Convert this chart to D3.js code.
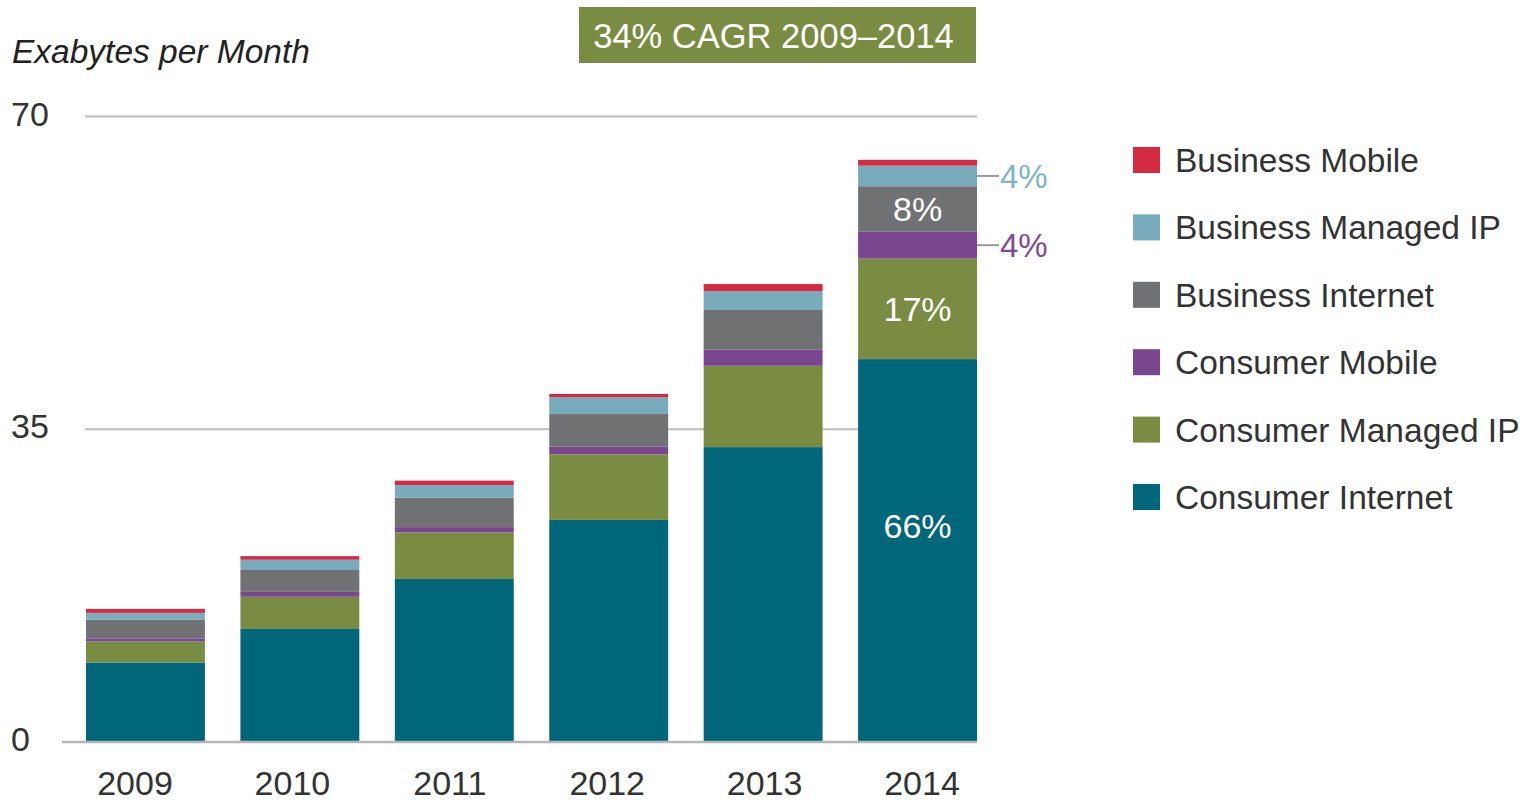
<!DOCTYPE html>
<html>
<head>
<meta charset="utf-8">
<script src="https://cdn.jsdelivr.net/npm/d3@7"></script>
<style>
  html, body { margin: 0; padding: 0; background: #fff; }
  svg { display: block; font-family: "Liberation Sans", Arial, sans-serif; }
  .tick-label { font-size: 34px; fill: #333; }
  .legend-label { font-size: 33.5px; fill: #333; }
</style>
</head>
<body>
<svg id="chart" width="1532" height="801"></svg>
<script>
// Global IP traffic by segment, Exabytes per month
const YEARS = ['2009', '2010', '2011', '2012', '2013', '2014'];

const consumerInternet  = [8.9, 12.65, 18.25, 24.85, 33.0, 42.85];
const consumerManagedIP = [2.35, 3.6, 5.2, 7.35, 9.1, 11.25];
const consumerMobile    = [0.35, 0.55, 0.6, 0.85, 1.8, 3.0];
const businessInternet  = [2.1, 2.45, 3.3, 3.65, 4.45, 5.1];
const businessManagedIP = [0.75, 1.15, 1.4, 1.9, 2.1, 2.3];
const businessMobile    = [0.45, 0.4, 0.5, 0.35, 0.8, 0.65];

// stack order, bottom to top
const SERIES = [
  'Consumer Internet', 'Consumer Managed IP', 'Consumer Mobile',
  'Business Internet', 'Business Managed IP', 'Business Mobile',
];
const VALUES = [
  consumerInternet, consumerManagedIP, consumerMobile,
  businessInternet, businessManagedIP, businessMobile,
];
const COLORS = ['#00677a', '#7a8c42', '#7b4690', '#707173', '#78abbc', '#d52a41'];

const Y_TICKS = [0, 35, 70];
const CAGR_TEXT = '34% CAGR 2009\u20132014';
const Y_TITLE = 'Exabytes per Month';

// share labels on the 2014 bar
const SHARE_YEAR = '2014';
const SHARE_SERIES = ['Consumer Internet', 'Consumer Managed IP', 'Business Internet', 'Consumer Mobile', 'Business Managed IP'];
const SHARE_TEXT   = ['66%', '17%', '8%', '4%', '4%'];
const SHARE_INSIDE = [true, true, true, false, false];

const rows = YEARS.map((yr, i) => {
  const r = { year: yr };
  SERIES.forEach((s, k) => { r[s] = VALUES[k][i]; });
  return r;
});

const svg = d3.select('#chart');

const x = d3.scaleBand().domain(YEARS).range([86, 977]).paddingInner(0.23).paddingOuter(0);
// year labels sit on a slightly wider spacing than the bars
const xLabel = d3.scalePoint().domain(YEARS).range([135, 922]);
const y = d3.scaleLinear().domain([0, 70]).range([742, 116.5]);
const color = d3.scaleOrdinal().domain(SERIES).range(COLORS);

const stacked = d3.stack().keys(SERIES)(rows);

// gridlines (behind bars)
svg.append('g')
  .selectAll('line')
  .data(Y_TICKS.filter(t => t > 0))
  .join('line')
  .attr('x1', 85).attr('x2', 977)
  .attr('y1', d => y(d)).attr('y2', d => y(d))
  .attr('stroke', '#bdbdbd').attr('stroke-width', 2);

// y tick labels
svg.append('g')
  .selectAll('text')
  .data(Y_TICKS)
  .join('text')
  .attr('class', 'tick-label')
  .attr('x', 11)
  .attr('y', d => y(d) + 9)
  .text(d => d);

// axis title
svg.append('text')
  .attr('x', 12).attr('y', 63)
  .attr('font-size', 33.5).attr('font-style', 'italic').attr('fill', '#222')
  .text(Y_TITLE);

// bars
svg.append('g')
  .selectAll('g')
  .data(stacked)
  .join('g')
  .attr('fill', d => color(d.key))
  .selectAll('rect')
  .data(d => d)
  .join('rect')
  .attr('x', d => x(d.data.year))
  .attr('width', x.bandwidth())
  .attr('y', d => y(d[1]))
  .attr('height', d => y(d[0]) - y(d[1]));

// baseline
svg.append('line')
  .attr('x1', 62).attr('x2', 977)
  .attr('y1', y(0)).attr('y2', y(0))
  .attr('stroke', '#b5b5b5').attr('stroke-width', 2.5);

// x labels
svg.append('g')
  .selectAll('text')
  .data(YEARS)
  .join('text')
  .attr('class', 'tick-label')
  .attr('x', d => xLabel(d))
  .attr('y', 795)
  .attr('text-anchor', 'middle')
  .text(d => d);

// CAGR box
const box = svg.append('g');
box.append('rect')
  .attr('x', 579).attr('y', 7).attr('width', 397).attr('height', 56)
  .attr('fill', '#7a8c42');
box.append('text')
  .attr('x', 579 + 397 / 2 - 4).attr('y', 48)
  .attr('text-anchor', 'middle')
  .attr('font-size', 34.5).attr('fill', '#fff')
  .text(CAGR_TEXT);

// share labels on the last bar
const yi = YEARS.indexOf(SHARE_YEAR);
const xr = x(SHARE_YEAR) + x.bandwidth();
SHARE_SERIES.forEach((s, k) => {
  const seg = stacked[SERIES.indexOf(s)][yi];
  let mid = (y(seg[0]) + y(seg[1])) / 2;
  if (SHARE_INSIDE[k]) {
    if (s === 'Consumer Internet') mid -= 25;
    svg.append('text')
      .attr('x', x(SHARE_YEAR) + x.bandwidth() / 2)
      .attr('y', mid + 12)
      .attr('text-anchor', 'middle')
      .attr('font-size', 34).attr('fill', '#fff')
      .text(SHARE_TEXT[k]);
  } else {
    svg.append('line')
      .attr('x1', xr).attr('x2', xr + 22)
      .attr('y1', mid).attr('y2', mid)
      .attr('stroke', '#9a9a9a').attr('stroke-width', 2);
    svg.append('text')
      .attr('x', xr + 23)
      .attr('y', mid + 12)
      .attr('font-size', 33)
      .attr('fill', d3.color(color(s)).brighter(0.15))
      .text(SHARE_TEXT[k]);
  }
});

// legend, top to bottom = reverse of stack
const legendItems = SERIES.slice().reverse();
const lg = svg.append('g').attr('transform', 'translate(1133,147)');
const li = lg.selectAll('g')
  .data(legendItems)
  .join('g')
  .attr('transform', (d, i) => `translate(0,${i * 67.4})`);
li.append('rect')
  .attr('width', 27).attr('height', 26)
  .attr('fill', d => color(d));
li.append('text')
  .attr('class', 'legend-label')
  .attr('x', 42).attr('y', 25)
  .text(d => d);
</script>
</body>
</html>
